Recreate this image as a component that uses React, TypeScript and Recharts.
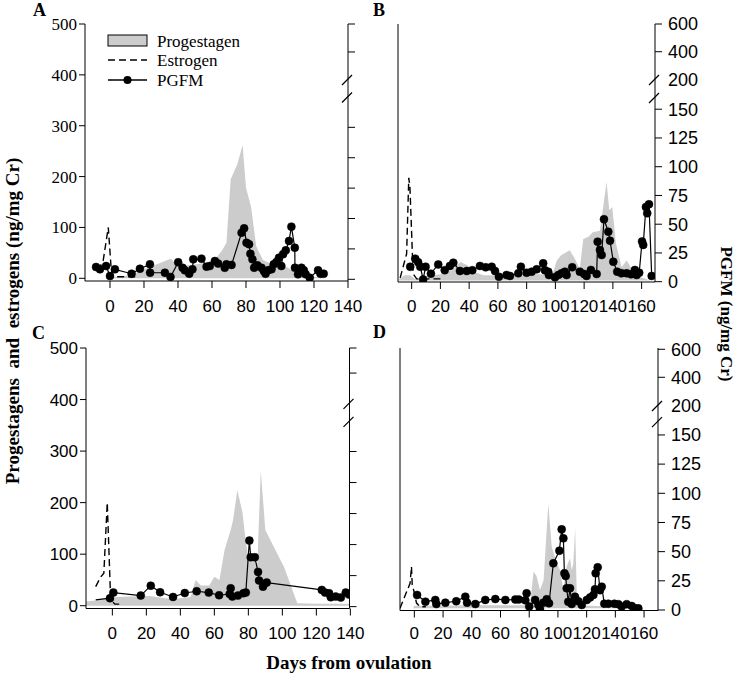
import React from 'react';
import { ComposedChart, Area, Line, XAxis, YAxis, Legend } from 'recharts';

const SANS = '"Liberation Sans", Arial, sans-serif';
const SERIF = '"Liberation Serif", "Times New Roman", serif';

// ---------- data: [day, value] ----------
const progA = [[-2,0],[2,2],[8,4],[14,8],[20,18],[28,28],[36,39],[39,24],[45,25],[52,28],[58,32],[62,38],[66,55],[68.5,70],[71,195],[75,225],[78,262],[80,178],[83,140],[86,63],[90,36],[95,28],[100,24],[104,22],[110,10],[115,5],[120,3],[126,0]];
const estA = [[-7,15],[-4,35],[-1,100],[0.6,23],[1.5,3],[16,3]];
const pgfmA = [[-8.2,10.1],[-5.9,8.2],[-2.3,10.9],[0,2.7],[2.9,8.2],[12.7,4.6],[17.6,8.7],[23.5,12.3],[23.6,5.4],[32.3,5.4],[35.6,1.9],[40.1,14],[42.7,9.5],[44,7.4],[46.6,4.6],[48.5,8.2],[49,16.4],[53.8,17],[56.8,10.4],[58.7,10.9],[61.7,15],[63.6,12.9],[67.5,9.5],[68.5,12.3],[71.5,11.8],[77.4,38.3],[78.9,41.9],[80.3,30.1],[81.8,28.8],[82.6,21],[83.8,16.4],[84.8,9.5],[86.7,11.5],[89.1,9.5],[90.5,6.8],[91.5,4.6],[93,7.4],[95,8.2],[96.3,12.3],[97.9,14.2],[99.4,17.8],[100.8,10.9],[101.8,20.6],[103.4,23.8],[105.3,31.5],[106.7,43.3],[108.7,26],[108.8,9.5],[110.6,4.1],[112.6,9.5],[114,7.4],[115.1,4.1],[117.5,1.3],[122.4,7.4],[123.8,4.6],[125.7,4.6]];

const progB = [[-9,2],[-5,10],[-1,10],[2,3],[5,2],[10,8],[20,12],[28,20],[34,36],[39,29],[45,15],[50,10],[60,10],[70,12],[80,12],[90,12],[98,12],[101,39],[104,49],[110,59],[113.6,42],[117,23],[119.4,81],[123,85],[126,94],[131,97],[135.6,192],[137.5,137],[139.6,143],[142,74],[146,26],[149.6,39],[153,23],[157,8],[162,4],[166,0]];
const estB = [[-8,5],[-3.5,52],[-2,200],[-1.2,182],[0,91],[1,13],[3.5,3],[8,3],[20,3]];
const pgfmB = [[-1,13],[2.5,20],[4.5,17],[6,13],[8,2],[9.7,13],[13.4,7],[18.5,15],[23,10],[26.6,13.7],[29,16.5],[33.6,9.3],[38.3,9.3],[42.2,10],[47.5,13.7],[51.5,12.5],[55.7,13],[58,9.3],[60.7,4.3],[66,5.8],[68.4,5],[74.2,7.3],[76,13],[80,7.8],[83.5,8.7],[87,10.8],[91.5,16],[92.7,10],[95,8.7],[95.5,5.8],[99.7,3.8],[102,5.8],[104.3,7.3],[106.6,8.7],[107.8,5.8],[111.7,12.5],[117,8.7],[120,6.7],[121.7,5],[124.7,10.2],[128.7,6.7],[129.4,34.8],[131,27.6],[132.2,23.2],[133.8,54.3],[136.8,43.5],[138,35.7],[140.3,17.4],[143,8.7],[146,7.3],[149.6,7.3],[152.6,6.4],[155.3,10.2],[156.5,5.8],[158.3,7.8],[160.3,35],[161.1,32],[163,65],[163.9,59.5],[165.1,67.3],[167,5]];

const progC = [[-15.5,8],[-10,10],[0,15],[3,17],[10,18],[22,19],[30,15],[36,13],[46,17],[49,50],[52,39],[57,39],[60,56],[63,50],[66,108],[69.6,147],[71,166],[73.5,224],[76.5,182],[78.4,127],[80,95],[83,90],[85.3,82],[87.3,262],[90,147],[93,127],[101,75],[108.8,5],[120,4],[140,4]];
const estC = [[-9.8,37],[-7,55],[-5,63],[-3,200],[-1,12],[1.5,3],[4.6,3]];
const pgfmC = [[-9.8,5.4],[-1.4,6.8],[0.6,11.3],[16.7,8.9],[22.6,16.9],[28.1,11.6],[35.7,7.8],[42.6,11],[49.6,12.4],[56.7,11.3],[62.8,9.2],[69,10.2],[69.6,14.8],[70.6,8.1],[73.9,8.9],[77.1,10.8],[78.5,11.3],[80.6,53.2],[81.4,39.8],[83.8,39.8],[85.7,28],[86.3,21],[88.6,16.1],[89.2,18.3],[90.8,19.4],[123.2,13.5],[125.1,11.3],[127.5,10.8],[128.5,7.6],[131.4,8.1],[134.4,7.3],[137.3,11.3],[139.2,9.7]];

const progD = [[-1,0],[0,5],[20,5],[40,6],[60,6],[78,6],[80.6,6],[83,70],[85,63],[87.5,35],[90,54],[93.3,201],[95.7,118],[99.2,87],[101.5,73],[103.8,35],[106,80],[108.4,96],[109.6,73],[110.7,85],[112,154],[113.1,29],[115.4,6],[130,4],[145,3],[156,0]];
const estD = [[-10,0],[-3,48],[-2,80],[-1.5,45],[0,30],[1.5,10],[4,3],[8,3]];
const pgfmD = [[1.9,12.9],[7.7,7.1],[14.6,8.6],[15.3,5.1],[21.6,6.3],[29.2,7.5],[35.5,11.4],[36.7,6.3],[42.5,5.1],[49.4,8.6],[56.4,9.4],[63.4,8.6],[70.3,9],[72.7,9],[77.3,8.3],[78.2,14.3],[80,2.9],[84.1,8.6],[86.4,4.3],[87.5,0.6],[89.8,6.3],[92.2,9.2],[93.8,5.7],[96.8,40],[101,50.8],[102.6,69.1],[103.8,61.4],[104.5,31.4],[105.4,29.1],[106.1,18.6],[107.2,7],[108.4,18.6],[109.6,5.1],[111.9,11.4],[114.2,7.5],[116.6,4.3],[120.1,8.6],[122.4,10.8],[124.7,12.9],[125.8,17.7],[126.3,31.4],[127.7,36.6],[129.3,17],[130.5,20],[132.3,5.4],[135.1,5.4],[139.3,5.4],[142.1,5],[144.4,2.9],[147.9,5],[151.4,3.4],[153.7,1.4],[156,1.4]];

// ---------- ticks & labels ----------
const xTicks140 = [0, 20, 40, 60, 80, 100, 120, 140];
const xTicks160 = [0, 20, 40, 60, 80, 100, 120, 140, 160];
const leftTicks = [0, 100, 200, 300, 400, 500];
const legendOrder = ['Progestagen', 'Estrogen', 'PGFM'];

const rTicksA = [0, 25, 50, 75, 100, 125, 187, 210];
const rSlashA = [149.5, 164];
const rTicksB = [0, 25, 50, 75, 100, 125, 150, 175.4, 200, 224.1];
const rLabelsB = ['0', '25', '50', '75', '100', '125', '150', '200', '400', '600'];
const rSlashB = [159.7, 175.4];
const rTicksC = [0, 25, 50, 75, 100, 125, 188.2, 208.4];
const rSlashC = [148.9, 163.4];
const rTicksD = [0, 25, 50, 75, 100, 125, 150, 174.8, 199.4, 223.4];
const rLabelsD = ['0', '25', '50', '75', '100', '125', '150', '200', '400', '600'];
const rSlashD = [161, 174.8];

const toPts = (arr: number[][]) => arr.map(([d, v]) => ({ d, v }));

const near = (a: number, b: number) => Math.abs(a - b) < 1e-6;

const makeRightTick = (ticks: number[], labels: string[] | null, slashes: number[]) => (props: any) => {
  const { x, y, payload, index } = props;
  const ax = x - 13;
  const v = payload.value;
  const isSlash = slashes.some((s) => near(s, v));
  const idx = ticks.findIndex((t) => near(t, v));
  return (
    <g key={`rt${index}`}>
      {isSlash ? (
        <line x1={ax - 6} y1={y + 5} x2={ax + 4} y2={y - 5} stroke="#000" strokeWidth={1.3} />
      ) : (
        <line x1={ax} y1={y} x2={ax + 7} y2={y} stroke="#000" strokeWidth={1} />
      )}
      {labels && idx >= 0 && labels[idx] ? (
        <text x={x} y={y} dy="0.35em" textAnchor="start" fontSize={18} fontFamily={SANS} fill="#000">
          {labels[idx]}
        </text>
      ) : null}
    </g>
  );
};

const makeDot = (skip: number[]) => (props: any) => {
  const { cx, cy, index } = props;
  if (skip.includes(index) || cx == null || cy == null) return <g key={`d${index}`} />;
  return <circle key={`d${index}`} cx={cx} cy={cy} r={4} fill="#000" stroke="#000" strokeWidth={0.5} />;
};

const LegendContent = (props: any) => {
  const items = [...(props.payload || [])].sort(
    (a: any, b: any) => legendOrder.indexOf(a.value) - legendOrder.indexOf(b.value)
  );
  return (
    <svg width={160} height={60} style={{ display: 'block', overflow: 'visible' }}>
      {items.map((it: any, i: number) => {
        const cy = [7, 26, 46][i] ?? 8 + i * 20;
        let icon = null;
        if (it.type === 'rect') icon = <rect x={0} y={cy - 6} width={39} height={11} fill="#cccccc" stroke="#000" strokeWidth={1} />;
        else if (it.type === 'plainline') icon = <line x1={0} y1={cy} x2={39} y2={cy} stroke="#000" strokeWidth={1.4} strokeDasharray="7 4" />;
        else icon = (
          <g>
            <line x1={0} y1={cy} x2={39} y2={cy} stroke="#000" strokeWidth={1.4} />
            <circle cx={19.5} cy={cy} r={4} fill="#000" />
          </g>
        );
        return (
          <g key={i}>
            {icon}
            <text x={49} y={cy} dy="0.33em" fontSize={17} fontFamily={SERIF} fill="#000">{it.value}</text>
          </g>
        );
      })}
    </svg>
  );
};

const panels = [
  { key: 'A', left: 0, top: 0, w: 368, h: 330, margin: { top: 24, right: 0, bottom: 0, left: 25 }, lW: 60, rW: 20, xH: 49,
    xDomain: [-14.7, 140], xTicks: xTicks140, xTickMargin: 12, lDomain: [-5.3, 500], leftFont: SERIF,
    rDomain: [-1.4, 210], rTicks: rTicksA, rLabels: null, rSlash: rSlashA, prog: progA, est: estA, pgfm: pgfmA, skip: [] as number[], legend: true },
  { key: 'B', left: 368, top: 0, w: 369, h: 330, margin: { top: 24, right: 22, bottom: 0, left: 0 }, lW: 30, rW: 60, xH: 48,
    xDomain: [-9.5, 169.3], xTicks: xTicks160, xTickMargin: 11, lDomain: [-3, 500], leftFont: null,
    rDomain: [-0.26, 224.1], rTicks: rTicksB, rLabels: rLabelsB, rSlash: rSlashB, prog: progB, est: estB, pgfm: pgfmB, skip: [] as number[], legend: false },
  { key: 'C', left: 0, top: 320, w: 368, h: 356, margin: { top: 28, right: 0, bottom: 27.5, left: 26 }, lW: 60, rW: 18.5, xH: 40,
    xDomain: [-15.5, 139.5], xTicks: xTicks140, xTickMargin: 11, lDomain: [-5.4, 500], leftFont: SANS,
    rDomain: [-1.5, 208.4], rTicks: rTicksC, rLabels: null, rSlash: rSlashC, prog: progC, est: estC, pgfm: pgfmC, skip: [0], legend: false },
  { key: 'D', left: 368, top: 320, w: 369, h: 356, margin: { top: 28, right: 19, bottom: 25.5, left: 0 }, lW: 32, rW: 60, xH: 40,
    xDomain: [-10, 169.7], xTicks: xTicks160, xTickMargin: 9, lDomain: [-4.2, 500], leftFont: null,
    rDomain: [-0.43, 224.5], rTicks: rTicksD, rLabels: rLabelsD, rSlash: rSlashD, prog: progD, est: estD, pgfm: pgfmD, skip: [] as number[], legend: false },
];

const Panel = ({ p }: { p: any }) => {
  const rightAll = [...p.rTicks, ...p.rSlash.filter((s: number) => !p.rTicks.some((t: number) => near(t, s)))].sort((a, b) => a - b);
  return (
    <div style={{ position: 'absolute', left: p.left, top: p.top }}>
      <ComposedChart width={p.w} height={p.h} margin={p.margin}>
        <XAxis type="number" dataKey="d" domain={p.xDomain} allowDataOverflow ticks={p.xTicks} interval={0}
          height={p.xH} tickSize={7} tickMargin={p.xTickMargin}
          axisLine={{ stroke: '#000' }} tickLine={{ stroke: '#000' }}
          tick={{ fontSize: 17, fontFamily: SANS, fill: '#000' }} />
        <YAxis yAxisId="left" type="number" domain={p.lDomain} allowDataOverflow ticks={leftTicks} interval={0}
          width={p.lW} tickSize={6} tickMargin={2}
          axisLine={{ stroke: '#000' }} tickLine={{ stroke: '#000' }}
          tick={p.leftFont ? { fontSize: 17, fontFamily: p.leftFont, fill: '#000' } : false} />
        <YAxis yAxisId="right" orientation="right" type="number" domain={p.rDomain} allowDataOverflow
          ticks={rightAll} interval={0} width={p.rW} tickSize={7} tickMargin={6}
          axisLine={{ stroke: '#000' }} tickLine={false}
          tick={makeRightTick(p.rTicks, p.rLabels, p.rSlash)} />
        <Area yAxisId="left" data={toPts(p.prog)} dataKey="v" name="Progestagen" type="linear"
          fill="#cccccc" fillOpacity={1} stroke="none" legendType="rect" isAnimationActive={false} activeDot={false} />
        <Line yAxisId="left" data={toPts(p.est)} dataKey="v" name="Estrogen" type="linear"
          stroke="#000" strokeWidth={1.4} strokeDasharray="7 4" dot={false} legendType="plainline"
          isAnimationActive={false} activeDot={false} />
        <Line yAxisId="right" data={toPts(p.pgfm)} dataKey="v" name="PGFM" type="linear"
          stroke="#000" strokeWidth={1.2} dot={makeDot(p.skip)} legendType="line"
          isAnimationActive={false} activeDot={false} />
        {p.legend ? (
          <Legend layout="vertical" align="center" verticalAlign="middle" content={LegendContent}
            wrapperStyle={{ position: 'absolute', left: 108, top: 34, width: 160, height: 60 }} />
        ) : null}
      </ComposedChart>
    </div>
  );
};

export default function App() {
  return (
    <div style={{ position: 'absolute', left: 0, top: 0, width: 737, height: 676, background: '#fff', overflow: 'hidden' }}>
      {panels.map((p) => <Panel key={p.key} p={p} />)}
      <svg width={737} height={676} style={{ position: 'absolute', left: 0, top: 0, pointerEvents: 'none' }}>
        <g fontFamily={SERIF} fontWeight="bold" fill="#000">
          <text x={33} y={16} fontSize={18}>A</text>
          <text x={373} y={16} fontSize={18}>B</text>
          <text x={32} y={339} fontSize={18}>C</text>
          <text x={373} y={338} fontSize={18}>D</text>
          <text transform="translate(19,321) rotate(-90)" textAnchor="middle" fontSize={19} style={{ whiteSpace: 'pre' }}>
            {'Progestagens  and  estrogens (ng/mg Cr)'}
          </text>
          <text transform="translate(721,314) rotate(90)" textAnchor="middle" fontSize={17}>PGFM (ng/mg Cr)</text>
          <text x={349} y={669} textAnchor="middle" fontSize={19}>Days from ovulation</text>
        </g>
      </svg>
    </div>
  );
}
